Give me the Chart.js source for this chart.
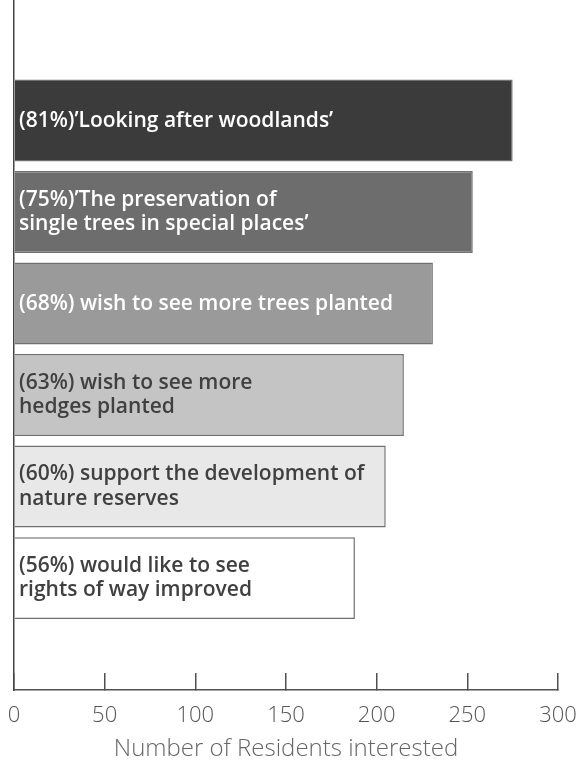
<!DOCTYPE html>
<html>
<head>
<meta charset="utf-8">
<script src="https://cdn.jsdelivr.net/npm/chart.js@4"></script>
<style>
  html, body { margin: 0; padding: 0; background: #ffffff; }
  #wrap { width: 579px; height: 762px; position: relative; }
</style>
</head>
<body>
<div id="wrap"><canvas id="c" width="579" height="762"></canvas></div>
<script>
// ---- data ----
const categories = [
  ["(81%)’Looking after woodlands’"],
  ["(75%)’The preservation of", "single trees in special places’"],
  ["(68%) wish to see more trees planted"],
  ["(63%) wish to see more", "hedges planted"],
  ["(60%) support the development of", "nature reserves"],
  ["(56%) would like to see", "rights of way improved"]
];
const positions = [1, 2, 3, 4, 5, 6];
const residents = [275, 253, 231, 215, 205, 188];
const xTicks = [0, 50, 100, 150, 200, 250, 300];
const axisTitle = "Number of Residents interested";

// ---- styles ----
const barColors = ["#3b3b3b", "#6d6d6d", "#9a9a9a", "#c4c4c4", "#e8e8e8", "#ffffff"];
const textColors = ["#ffffff", "#ffffff", "#ffffff", "#404040", "#404040", "#404040"];

const points = positions.map((p, i) => ({ x: residents[i], y: p }));

function zeroPadding(s) {
  s.paddingLeft = 0; s.paddingRight = 0; s.paddingTop = 0; s.paddingBottom = 0;
}

new Chart(document.getElementById("c"), {
  type: "bar",
  data: {
    datasets: [{
      data: points,
      backgroundColor: barColors,
      borderColor: "#707070",
      borderWidth: 1.5,
      borderSkipped: "start",
      categoryPercentage: 1,
      barPercentage: 0.895
    }]
  },
  options: {
    indexAxis: "y",
    responsive: false,
    animation: false,
    devicePixelRatio: 1,
    layout: { autoPadding: false, padding: { left: 14, right: 21, top: 0, bottom: 0 } },
    plugins: { legend: { display: false }, tooltip: { enabled: false } },
    scales: {
      y: {
        type: "linear",
        reverse: true,
        offset: false,
        min: -0.317,
        max: 7.223,
        afterBuildTicks: (scale) => { scale.ticks = positions.map(v => ({ value: v })); },
        afterFit: (scale) => { scale.width = 0; zeroPadding(scale); },
        grid: { display: false, drawTicks: false },
        border: { display: true, color: "#444444", width: 1.5, z: 1 },
        ticks: {
          z: 1,
          mirror: true,
          padding: 5,
          autoSkip: false,
          callback: (v, i) => categories[i],
          color: (ctx) => textColors[ctx.index],
          font: { family: "'Open Sans'", size: 21, weight: "600", lineHeight: 1.15 }
        }
      },
      x: {
        type: "linear",
        min: 0,
        max: 300,
        afterBuildTicks: (scale) => { scale.ticks = xTicks.map(v => ({ value: v })); },
        afterFit: (scale) => { scale.height = 72; zeroPadding(scale); },
        grid: { display: true, drawOnChartArea: false, drawTicks: true, tickLength: -17, color: "#505050", lineWidth: 1.5 },
        border: { display: true, color: "#505050", width: 1.5 },
        ticks: {
          padding: 31,
          color: "#555555",
          font: { family: "'Open Sans'", size: 22, weight: "300", lineHeight: 1.1 }
        },
        title: {
          display: true,
          text: axisTitle,
          color: "#666666",
          padding: { top: 4, bottom: 0 },
          font: { family: "'Open Sans'", size: 24, weight: "300", lineHeight: 1.1 }
        }
      }
    }
  }
});
</script>
</body>
</html>
